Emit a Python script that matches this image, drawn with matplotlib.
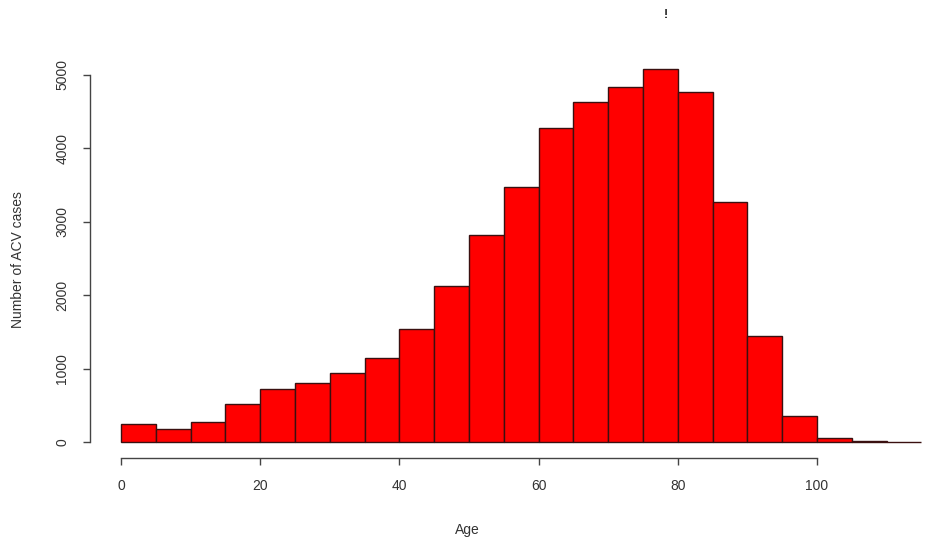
import numpy as np
import matplotlib.pyplot as plt

plt.rcParams['font.family'] = ['Liberation Sans', 'DejaVu Sans']

# age bins (5-year) and counts
bin_edges = list(range(0, 120, 5))
counts = [245, 177, 272, 518, 722, 804, 940, 1144, 1540, 2125, 2820, 3474,
          4278, 4632, 4837, 5082, 4768, 3270, 1444, 354, 55, 15, 5]
x_ticks = [0, 20, 40, 60, 80, 100]
y_ticks = [0, 1000, 2000, 3000, 4000, 5000]

W, H = 935, 552
fig = plt.figure(figsize=(W / 100, H / 100), dpi=100)
# axes placed in pixel terms
left, right, top, bottom = 100, 925, 60, 446
ax = fig.add_axes([left / W, 1 - bottom / H, (right - left) / W, (bottom - top) / H])

widths = np.diff(bin_edges)
ax.bar(bin_edges[:-1], counts, width=widths, align='edge',
       color='#ff0000', edgecolor='#3a1010', linewidth=1.0)

ax.set_xlim((100 - 121) / 6.96, (925 - 121) / 6.96)
ax.set_ylim(-(446 - 442) / 73.4 * 1000, (442 - 60) / 73.4 * 1000)

for s in ['top', 'right']:
    ax.spines[s].set_visible(False)
ax.spines['left'].set_bounds(0, 5000)
ax.spines['bottom'].set_bounds(0, 100)
ax.spines['left'].set_position(('outward', 7.2))
ax.spines['bottom'].set_position(('outward', 8.6))
for s in ['left', 'bottom']:
    ax.spines[s].set_color('#444444')
    ax.spines[s].set_linewidth(1.0)

ax.set_xticks(x_ticks)
ax.set_yticks(y_ticks)
ax.set_yticklabels([str(v) for v in y_ticks], rotation=90, va='center')
ax.tick_params(colors='#444444', labelcolor='#333333', labelsize=10,
               length=5, width=1.0)
ax.tick_params(axis='x', pad=10)
ax.tick_params(axis='y', pad=10)

fig.text(467 / W, 1 - 530 / H, 'Age', ha='center', va='center',
         fontsize=10, color='#333333')
fig.text(18 / W, 1 - 260 / H, 'Number of ACV cases', ha='center', va='center',
         rotation=90, fontsize=10, color='#333333')
fig.text(666 / W, 1 - 15 / H, '!', ha='center', va='center',
         fontsize=9, fontweight='bold', color='#222222')

fig.savefig('out.png', dpi=100)
